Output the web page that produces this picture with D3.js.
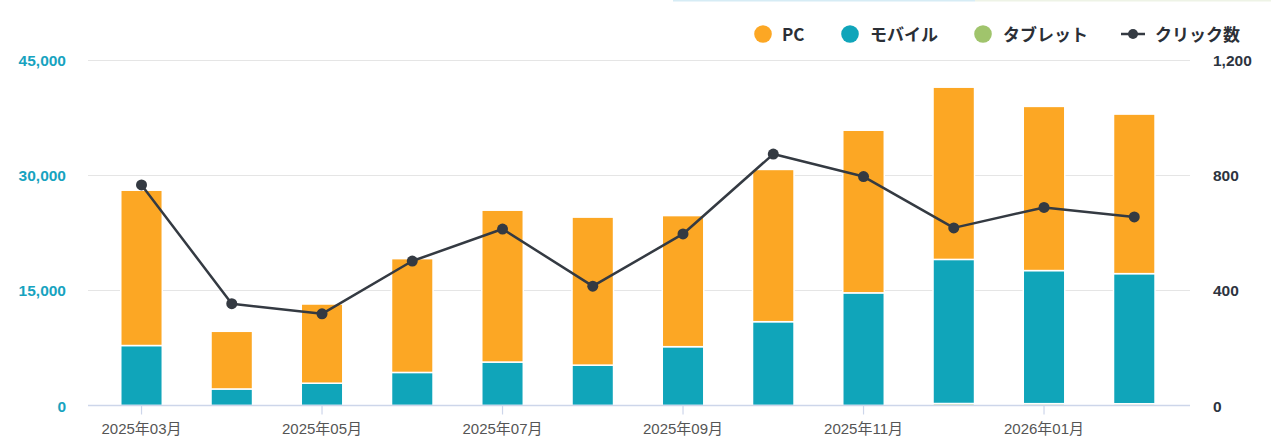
<!DOCTYPE html>
<html>
<head>
<meta charset="utf-8">
<script src="https://cdn.jsdelivr.net/npm/d3@7"></script>
<style>
  html, body { margin: 0; padding: 0; background: #fff; }
  svg { display: block; font-family: "Noto Sans CJK JP", "Noto Sans", sans-serif; }
</style>
</head>
<body>
<svg id="chart" width="1271" height="443"></svg>
<script>
const months = ["2025年03月","2025年04月","2025年05月","2025年06月","2025年07月","2025年08月",
                "2025年09月","2025年10月","2025年11月","2025年12月","2026年01月","2026年02月"];
const pcValues     = [20200, 7500, 10300, 14800, 19750, 19250, 17050, 19800, 21150, 22400, 21350, 20750];
const mobileValues = [7800, 2150, 2900, 4300, 5650, 5250, 7650, 10900, 14650, 18740, 17310, 16920];
const tabletValues = [0, 0, 0, 0, 0, 0, 0, 0, 0, 260, 240, 230];
const clickValues  = [765, 353, 318, 501, 612, 414, 595, 872, 794, 616, 687, 654];
const leftTicks  = [0, 15000, 30000, 45000];
const rightTicks = [0, 400, 800, 1200];
const seriesNames = ["PC", "モバイル", "タブレット", "クリック数"];

const colors = { pc: "#FCA724", mobile: "#10A5BA", tablet: "#A0C46C", line: "#343A42" };
const numFont = "'Liberation Sans', Arial, 'Noto Sans CJK JP', sans-serif";

const svg = d3.select("#chart");

// faint top strip (page remnant)
svg.append("rect").attr("x", 673).attr("y", 0).attr("width", 302).attr("height", 1.5).attr("fill", "#d6ecf5");
svg.append("rect").attr("x", 975).attr("y", 0).attr("width", 296).attr("height", 1.5).attr("fill", "#eef3e6");

const x = d3.scaleBand().domain(months).range([96.4, 1179.4]).paddingInner(0.54).paddingOuter(0.27);
const yL = d3.scaleLinear().domain([0, 45000]).range([405.5, 59.5]);
const yR = d3.scaleLinear().domain([0, 1200]).range([405.5, 59.5]);

// gridlines
svg.append("g").selectAll("line").data(leftTicks.slice(1)).join("line")
  .attr("x1", 88).attr("x2", 1190)
  .attr("y1", d => Math.round(yL(d)) + 0.5).attr("y2", d => Math.round(yL(d)) + 0.5)
  .attr("stroke", "#e5e5e5").attr("stroke-width", 1.2);

// stacked bars
const data = months.map((m, i) => ({ month: m, tablet: tabletValues[i], mobile: mobileValues[i], pc: pcValues[i] }));
const stack = d3.stack().keys(["tablet", "mobile", "pc"])(data);
svg.append("g").selectAll("g").data(stack).join("g")
  .attr("fill", d => colors[d.key])
  .selectAll("rect").data(d => d.filter(s => s[1] - s[0] > 0)).join("rect")
  .attr("x", d => x(d.data.month))
  .attr("width", x.bandwidth())
  .attr("y", d => yL(d[1]))
  .attr("height", d => yL(d[0]) - yL(d[1]))
  .attr("stroke", "#fff").attr("stroke-width", 1.5);

// x axis line
svg.append("line").attr("x1", 88).attr("x2", 1190).attr("y1", 405.5).attr("y2", 405.5)
  .attr("stroke", "#cdd6ea").attr("stroke-width", 1.5);

// x ticks & labels (every other month)
const xAxis = d3.axisBottom(x).tickValues(months.filter((d, i) => i % 2 === 0)).tickSize(9).tickSizeOuter(0);
const gx = svg.append("g").attr("transform", "translate(0,405.5)").call(xAxis);
gx.select(".domain").remove();
gx.selectAll(".tick line").attr("stroke", "#cdd6ea").attr("stroke-width", 1.2);
gx.selectAll(".tick text").attr("dy", 0).attr("y", 28)
  .attr("fill", "#555").attr("font-size", 15)
  .attr("font-family", numFont);

// left axis
const gl = svg.append("g").attr("transform", "translate(66,0)")
  .call(d3.axisLeft(yL).tickValues(leftTicks).tickSize(0).tickFormat(d3.format(",")));
gl.select(".domain").remove();
gl.selectAll(".tick text").attr("x", 0).attr("dy", "0.36em")
  .attr("fill", "#17A3C0").attr("font-size", 15.5).attr("font-weight", "bold")
  .attr("font-family", numFont);

// right axis
const gr = svg.append("g").attr("transform", "translate(1213,0)")
  .call(d3.axisRight(yR).tickValues(rightTicks).tickSize(0).tickFormat(d3.format(",")));
gr.select(".domain").remove();
gr.selectAll(".tick text").attr("x", 0).attr("dy", "0.36em")
  .attr("fill", "#2d3440").attr("font-size", 15.5).attr("font-weight", "bold")
  .attr("font-family", numFont);

// line
const cx = m => x(m) + x.bandwidth() / 2;
svg.append("path").datum(clickValues)
  .attr("fill", "none").attr("stroke", colors.line).attr("stroke-width", 2.5)
  .attr("stroke-linejoin", "round")
  .attr("d", d3.line().x((d, i) => cx(months[i])).y(d => yR(d)));
svg.append("g").selectAll("circle").data(clickValues).join("circle")
  .attr("cx", (d, i) => cx(months[i])).attr("cy", d => yR(d)).attr("r", 5.5)
  .attr("fill", colors.line);

// legend
const legendItems = [
  { name: seriesNames[0], type: "dot", color: colors.pc, x: 763, tx: 782 },
  { name: seriesNames[1], type: "dot", color: colors.mobile, x: 850, tx: 870 },
  { name: seriesNames[2], type: "dot", color: colors.tablet, x: 983, tx: 1003 },
  { name: seriesNames[3], type: "line", color: colors.line, x: 1133, tx: 1155 }
];
const lg = svg.append("g");
legendItems.forEach(it => {
  if (it.type === "dot") {
    lg.append("circle").attr("cx", it.x).attr("cy", 34).attr("r", 8.8).attr("fill", it.color);
  } else {
    lg.append("line").attr("x1", it.x - 12).attr("x2", it.x + 12).attr("y1", 34).attr("y2", 34)
      .attr("stroke", it.color).attr("stroke-width", 2.5);
    lg.append("circle").attr("cx", it.x).attr("cy", 34).attr("r", 5).attr("fill", it.color);
  }
  lg.append("text").attr("x", it.tx).attr("y", 35).attr("dy", "0.36em")
    .attr("fill", "#2b2f36").attr("font-size", 17).attr("font-weight", "bold")
    .text(it.name);
});
</script>
</body>
</html>
